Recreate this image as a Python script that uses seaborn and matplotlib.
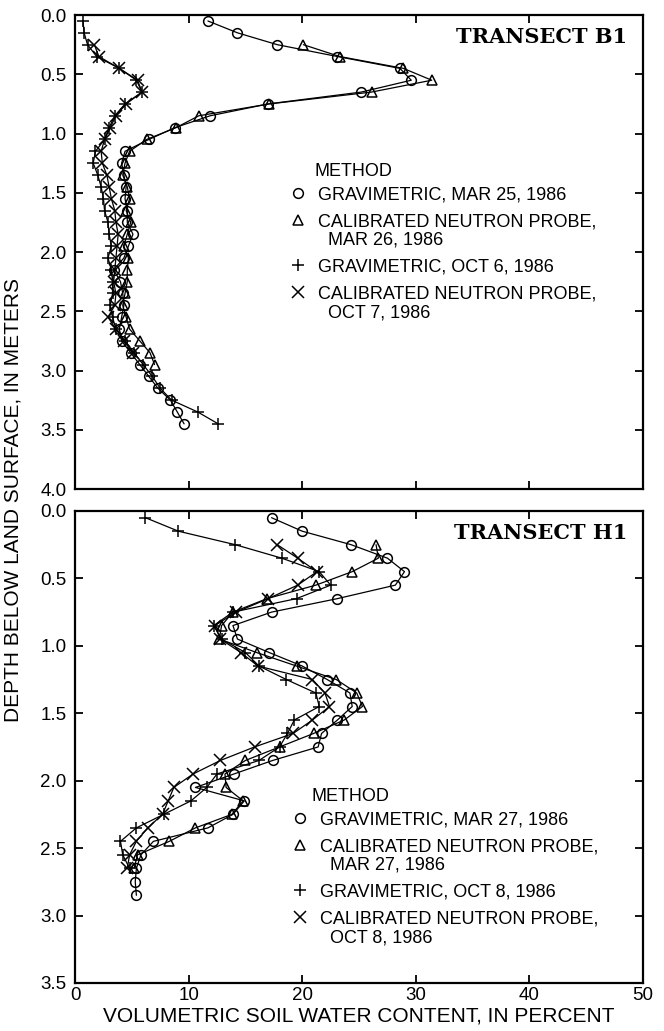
import matplotlib
matplotlib.use("Agg")
import matplotlib.pyplot as plt
from matplotlib.lines import Line2D
from matplotlib.legend_handler import HandlerLine2D
import numpy as np
import pandas as pd
import seaborn as sns

sns.set_theme(style="ticks")
plt.rcParams['font.family'] = ['Liberation Sans', 'DejaVu Sans']
plt.rcParams.update({'text.color': 'black', 'axes.labelcolor': 'black',
                     'xtick.color': 'black', 'ytick.color': 'black'})

# ---------------- data: Transect B1 ----------------
b1_grav_mar_depth = [0.05, 0.15, 0.25, 0.35, 0.45, 0.55, 0.65, 0.75, 0.85, 0.95,
                     1.05, 1.15, 1.25, 1.35, 1.45, 1.55, 1.65, 1.75, 1.85, 1.95,
                     2.05, 2.15, 2.25, 2.35, 2.45, 2.55, 2.65, 2.75, 2.85, 2.95,
                     3.05, 3.15, 3.25, 3.35, 3.45]
b1_grav_mar = [11.7, 14.3, 17.8, 23.1, 28.6, 29.6, 25.2, 17.0, 11.9, 8.8,
               6.5, 4.4, 4.1, 4.3, 4.5, 4.4, 4.6, 4.6, 5.1, 4.7,
               4.3, 3.4, 4.0, 4.2, 4.3, 4.1, 3.9, 4.1, 4.9, 5.7,
               6.5, 7.3, 8.4, 9.0, 9.6]

b1_npr_mar_depth = [0.25, 0.35, 0.45, 0.55, 0.65, 0.75, 0.85, 0.95, 1.05, 1.15,
                    1.25, 1.35, 1.45, 1.55, 1.65, 1.75, 1.85, 1.95, 2.05, 2.15,
                    2.25, 2.35, 2.45, 2.55, 2.65, 2.75, 2.85, 2.95]
b1_npr_mar = [20.1, 23.3, 28.9, 31.4, 26.1, 17.1, 10.9, 8.9, 6.3, 4.8,
              4.4, 4.2, 4.6, 4.8, 4.5, 4.9, 4.6, 4.3, 4.7, 4.6,
              4.6, 4.4, 4.2, 4.5, 4.8, 5.7, 6.6, 7.0]

b1_grav_oct_depth = [0.05, 0.15, 0.25, 0.35, 0.45, 0.55, 0.65, 0.75, 0.85, 0.95,
                     1.05, 1.15, 1.25, 1.35, 1.45, 1.55, 1.65, 1.75, 1.85, 1.95,
                     2.05, 2.15, 2.25, 2.35, 2.45, 2.55, 2.65, 2.75, 2.85, 2.95,
                     3.05, 3.15, 3.25, 3.35, 3.45]
b1_grav_oct = [0.7, 0.8, 1.1, 1.9, 3.9, 5.4, 5.9, 4.4, 3.5, 3.0,
               2.6, 1.8, 1.6, 2.0, 2.3, 2.5, 2.6, 2.9, 3.0, 3.2,
               2.9, 3.2, 3.3, 3.3, 3.1, 3.3, 3.6, 4.4, 5.2, 6.0,
               6.8, 7.5, 8.5, 10.8, 12.6]

b1_npr_oct_depth = [0.25, 0.35, 0.45, 0.55, 0.65, 0.75, 0.85, 0.95, 1.05, 1.15,
                    1.25, 1.35, 1.45, 1.55, 1.65, 1.75, 1.85, 1.95, 2.05, 2.15,
                    2.25, 2.35, 2.45, 2.55, 2.65, 2.75, 2.85]
b1_npr_oct = [1.7, 2.1, 3.9, 5.5, 5.9, 4.5, 3.6, 3.1, 2.6, 2.3,
              2.4, 2.8, 3.0, 3.2, 3.5, 3.6, 3.8, 3.7, 3.6, 3.5,
              3.4, 3.6, 3.5, 2.9, 3.6, 4.3, 5.1]

# ---------------- data: Transect H1 ----------------
h1_grav_mar_depth = [0.05, 0.15, 0.25, 0.35, 0.45, 0.55, 0.65, 0.75, 0.85, 0.95,
                     1.05, 1.15, 1.25, 1.35, 1.45, 1.55, 1.65, 1.75, 1.85, 1.95,
                     2.05, 2.15, 2.25, 2.35, 2.45, 2.55, 2.65, 2.75, 2.85]
h1_grav_mar = [17.3, 20.0, 24.3, 27.5, 29.0, 28.2, 23.1, 17.3, 13.9, 14.3,
               17.1, 20.0, 22.2, 24.2, 24.4, 23.1, 21.7, 21.4, 17.4, 14.0,
               10.6, 14.9, 13.9, 11.7, 6.9, 5.8, 5.4, 5.3, 5.4]

h1_npr_mar_depth = [0.25, 0.35, 0.45, 0.55, 0.65, 0.75, 0.85, 0.95, 1.05, 1.15,
                    1.25, 1.35, 1.45, 1.55, 1.65, 1.75, 1.85, 1.95, 2.05, 2.15,
                    2.25, 2.35, 2.45, 2.55, 2.65]
h1_npr_mar = [26.5, 26.7, 24.4, 21.2, 16.9, 13.9, 12.9, 12.7, 16.0, 19.5,
              23.0, 24.8, 25.3, 23.7, 21.0, 18.0, 15.0, 13.2, 13.3, 14.8,
              13.8, 10.6, 8.3, 5.5, 5.2]

h1_grav_oct_depth = [0.05, 0.15, 0.25, 0.35, 0.45, 0.55, 0.65, 0.75, 0.85, 0.95,
                     1.05, 1.15, 1.25, 1.35, 1.45, 1.55, 1.65, 1.75, 1.85, 1.95,
                     2.05, 2.15, 2.25, 2.35, 2.45, 2.55, 2.65]
h1_grav_oct = [6.2, 9.1, 14.1, 18.2, 21.5, 22.5, 19.5, 13.9, 12.2, 12.9,
               15.0, 16.2, 18.6, 21.2, 21.5, 19.3, 18.7, 18.0, 16.2, 12.5,
               11.6, 10.2, 7.8, 5.4, 4.0, 4.2, 4.8]

h1_npr_oct_depth = [0.25, 0.35, 0.45, 0.55, 0.65, 0.75, 0.85, 0.95, 1.05, 1.15,
                    1.25, 1.35, 1.45, 1.55, 1.65, 1.75, 1.85, 1.95, 2.05, 2.15,
                    2.25, 2.35, 2.45, 2.55, 2.65]
h1_npr_oct = [17.8, 19.6, 21.3, 19.6, 17.0, 14.2, 12.3, 12.8, 14.6, 16.1,
              20.9, 22.0, 22.4, 20.9, 19.2, 15.8, 12.8, 10.4, 8.7, 8.2,
              7.7, 6.4, 5.4, 4.8, 4.6]

# ---------------- labels ----------------
x_ticks = [0, 10, 20, 30, 40, 50]
b1_y_ticks = [0.0, 0.5, 1.0, 1.5, 2.0, 2.5, 3.0, 3.5, 4.0]
h1_y_ticks = [0.0, 0.5, 1.0, 1.5, 2.0, 2.5, 3.0, 3.5]
b1_labels = ["GRAVIMETRIC, MAR 25, 1986",
             "CALIBRATED NEUTRON PROBE,\n  MAR 26, 1986",
             "GRAVIMETRIC, OCT 6, 1986",
             "CALIBRATED NEUTRON PROBE,\n  OCT 7, 1986"]
h1_labels = ["GRAVIMETRIC, MAR 27, 1986",
             "CALIBRATED NEUTRON PROBE,\n  MAR 27, 1986",
             "GRAVIMETRIC, OCT 8, 1986",
             "CALIBRATED NEUTRON PROBE,\n  OCT 8, 1986"]
x_label = "VOLUMETRIC SOIL WATER CONTENT, IN PERCENT"
y_label = "DEPTH BELOW LAND SURFACE, IN METERS"

# ---------------- style ----------------
markers = ['o', '^', '+', 'x']
msizes = [7, 7.5, 9, 8]
TICK_FS = 13.5
LEG_FS = 13
LAB_FS = 15
LINESP = 1.1

fig = plt.figure(figsize=(6.64, 10.31), dpi=100)
ax1 = fig.add_axes([0.1130, 0.5257, 0.8554, 0.4597])
ax2 = fig.add_axes([0.1130, 0.0466, 0.8554, 0.4578])


class FirstLineHandler(HandlerLine2D):
    """Place the legend key level with the first line of a multi-line label."""
    def __init__(self, nlines, **kw):
        super().__init__(**kw)
        self.nlines = nlines

    def create_artists(self, legend, orig_handle, xdescent, ydescent, width,
                       height, fontsize, trans):
        arts = super().create_artists(legend, orig_handle, xdescent, ydescent,
                                      width, height, fontsize, trans)
        shift = 0.5 * (self.nlines - 1) * fontsize * LINESP * 1.13
        for a in arts:
            a.set_ydata(np.asarray(a.get_ydata(), dtype=float) + shift)
        return arts


def draw_series(ax, xs, ds, m, ms):
    sns.lineplot(x=xs, y=ds, orient='y', estimator=None, ax=ax, color='black',
                 lw=0.9, marker=m, markersize=ms, markerfacecolor='none',
                 markeredgecolor='black', markeredgewidth=1.1, legend=False)


def style_axes(ax, yticks, show_xlabels):
    ax.set_xlim(0, 50)
    ax.set_ylim(yticks[-1], 0)
    ax.set_xticks(x_ticks)
    ax.set_yticks(yticks)
    ax.set_yticklabels([f"{v:.1f}" for v in yticks])
    ax.tick_params(direction='in', top=True, right=True, length=6, width=1.3,
                   labelsize=TICK_FS, colors='black')
    ax.tick_params(axis='y', pad=6)
    ax.tick_params(axis='x', pad=3)
    ax.tick_params(labelbottom=show_xlabels)
    for s in ax.spines.values():
        s.set_linewidth(1.6)
        s.set_color('black')
    ax.set_xlabel('')
    ax.set_ylabel('')


def add_legend(ax, labels, x0, x_method, y_method):
    handles = [Line2D([], [], linestyle='none', marker=m, markersize=ms,
                      markerfacecolor='none', markeredgecolor='black',
                      markeredgewidth=1.1) for m, ms in zip(markers, msizes)]
    hmap = {h: FirstLineHandler(lab.count('\n') + 1) for h, lab in zip(handles, labels)}
    ax.text(x_method, y_method, "METHOD", transform=ax.transAxes,
            ha='left', va='center', fontsize=LEG_FS)
    leg = ax.legend(handles, labels, handler_map=hmap, loc='upper left',
                    bbox_to_anchor=(x0, y_method - 0.031), frameon=False,
                    fontsize=LEG_FS, handlelength=1.05, handletextpad=0.6,
                    labelspacing=0.55, borderpad=0, borderaxespad=0)
    for t in leg.get_texts():
        t.set_linespacing(LINESP)
    return leg


for xs, ds, m, ms in zip([b1_grav_mar, b1_npr_mar, b1_grav_oct, b1_npr_oct],
                         [b1_grav_mar_depth, b1_npr_mar_depth, b1_grav_oct_depth, b1_npr_oct_depth],
                         markers, msizes):
    draw_series(ax1, xs, ds, m, ms)

for xs, ds, m, ms in zip([h1_grav_mar, h1_npr_mar, h1_grav_oct, h1_npr_oct],
                         [h1_grav_mar_depth, h1_npr_mar_depth, h1_grav_oct_depth, h1_npr_oct_depth],
                         markers, msizes):
    draw_series(ax2, xs, ds, m, ms)

style_axes(ax1, b1_y_ticks, False)
style_axes(ax2, h1_y_ticks, True)

add_legend(ax1, b1_labels, 0.375, 0.421, 0.669)
add_legend(ax2, h1_labels, 0.379, 0.416, 0.394)

for ax, title in [(ax1, "TRANSECT B1"), (ax2, "TRANSECT H1")]:
    ax.text(0.972, 0.975, title, transform=ax.transAxes, ha='right', va='top',
            fontsize=15, fontweight='bold', family=['DejaVu Serif'])

ax2.set_xlabel(x_label, fontsize=LAB_FS, labelpad=2)
fig.text(0.006, 0.515, y_label, rotation=90, ha='left', va='center', fontsize=LAB_FS)

fig.savefig("out.png", dpi=100)
